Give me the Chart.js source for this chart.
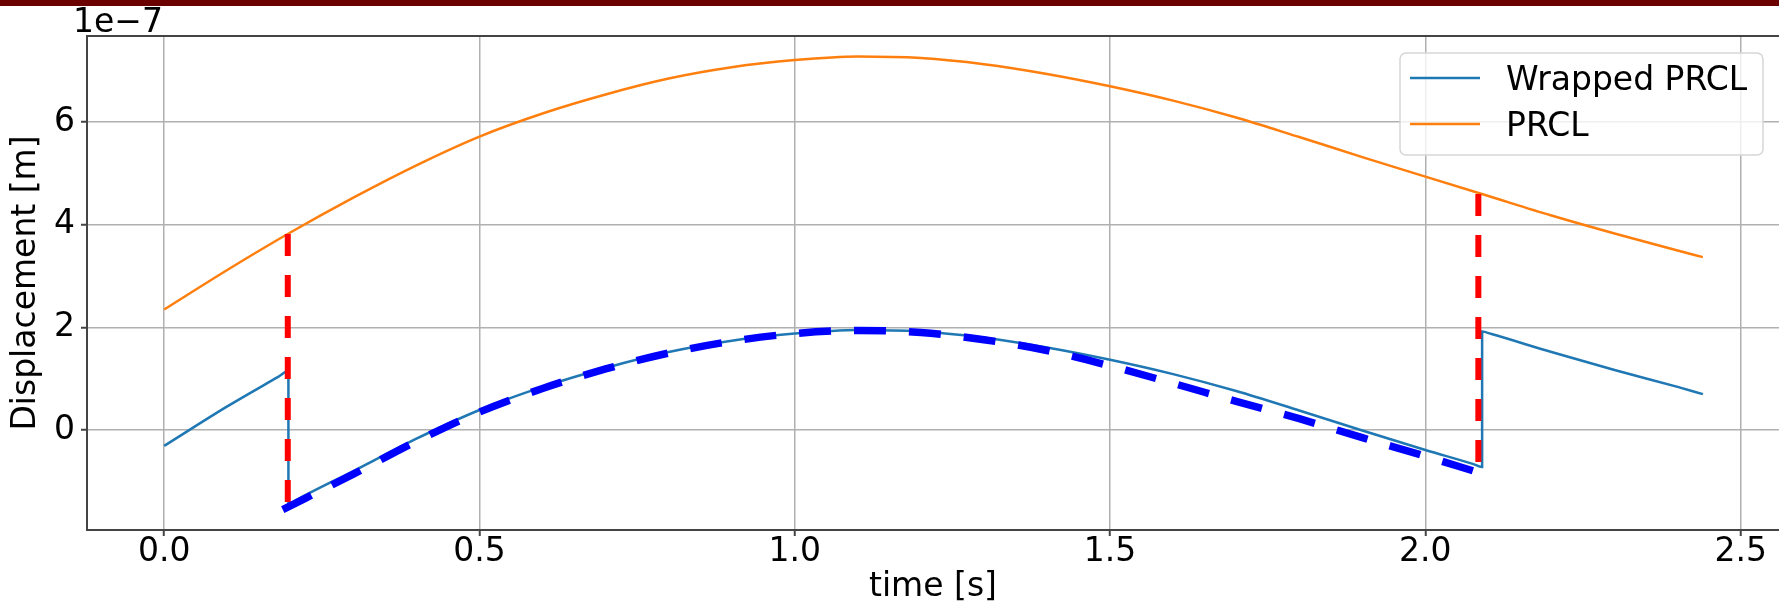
<!DOCTYPE html>
<html>
<head>
<meta charset="utf-8">
<script src="https://cdn.jsdelivr.net/npm/chart.js@4.4.0/dist/chart.umd.min.js"></script>
<style>
  html, body { margin: 0; padding: 0; background: #fff; overflow: hidden; }
  #wrap { position: relative; width: 1779px; height: 609px; }
  #topbar { position: absolute; left: 0; top: 0; width: 1779px; height: 6px; background: #6b0000; }
  canvas { position: absolute; left: 0; top: 0; }
</style>
</head>
<body>
<div id="wrap">
  <canvas id="chart" width="1779" height="609"></canvas>
  <div id="topbar"></div>
</div>
<script>
// time in s, displacement in units of 1e-7 m
const prclT = [0, 0.1, 0.2, 0.3, 0.4, 0.5, 0.6, 0.7, 0.8, 0.9, 1.0, 1.1, 1.2, 1.3, 1.4, 1.5, 1.6, 1.7, 1.8, 1.9, 2.0, 2.1, 2.2, 2.3, 2.4, 2.44];
const prclV = [2.35, 3.12, 3.85, 4.53, 5.16, 5.72, 6.17, 6.54, 6.85, 7.07, 7.21, 7.28, 7.25, 7.13, 6.94, 6.70, 6.42, 6.09, 5.71, 5.32, 4.94, 4.56, 4.18, 3.83, 3.50, 3.37];

const wrappedT = [0, 0.1, 0.18, 0.197, 0.197, 0.21, 0.3, 0.4, 0.5, 0.6, 0.7, 0.8, 0.9, 1.0, 1.1, 1.2, 1.3, 1.4, 1.5, 1.6, 1.7, 1.8, 1.9, 2.0, 2.075, 2.09, 2.09, 2.105, 2.2, 2.3, 2.4, 2.44];
const wrappedV = [-0.31, 0.46, 1.03, 1.15, -1.45, -1.36, -0.80, -0.17, 0.39, 0.84, 1.21, 1.52, 1.74, 1.88, 1.95, 1.92, 1.80, 1.61, 1.37, 1.09, 0.76, 0.38, -0.01, -0.39, -0.66, -0.72, 1.92, 1.87, 1.52, 1.17, 0.84, 0.70];

// thick blue dashed guide
const fitT = [0.188, 0.3, 0.4, 0.5, 0.6, 0.7, 0.8, 0.9, 1.0, 1.1, 1.2, 1.3, 1.4, 1.5, 1.6, 1.7, 1.8, 1.9, 2.0, 2.082];
const fitV = [-1.55, -0.86, -0.22, 0.35, 0.81, 1.19, 1.50, 1.73, 1.88, 1.94, 1.90, 1.76, 1.55, 1.25, 0.91, 0.56, 0.22, -0.15, -0.51, -0.82];

// red dashed jump markers
const jumpT = [0.196, 2.084];
const jumpTop = [3.82, 4.60];
const jumpBottom = [-1.41, -0.68];

const xTicks = [0, 0.5, 1.0, 1.5, 2.0, 2.5];
const yTicks = [0, 2, 4, 6];
const yOffsetLabel = '1e\u22127';
const legendLabels = ['Wrapped PRCL', 'PRCL'];

const FONT = 'DejaVu Sans';
Chart.defaults.font.family = FONT;
Chart.defaults.color = '#000';

const xy = (xs, ys) => xs.map((x, i) => ({x: x, y: ys[i]}));

const jumpData = [];
jumpT.forEach((t, i) => {
    if (i > 0) jumpData.push({x: t, y: null});
    jumpData.push({x: t, y: jumpTop[i]});
    jumpData.push({x: t, y: jumpBottom[i]});
});

const framePlugin = {
    id: 'frame',
    afterDraw(chart) {
        const c = chart.ctx;
        const a = chart.chartArea;
        c.save();
        // top spine
        c.strokeStyle = '#444';
        c.lineWidth = 2;
        c.beginPath();
        c.moveTo(a.left, a.top);
        c.lineTo(a.right, a.top);
        c.stroke();

        // offset text above y axis
        c.font = '33px "' + FONT + '"';
        c.fillStyle = '#000';
        c.textAlign = 'left';
        c.textBaseline = 'alphabetic';
        c.fillText(yOffsetLabel, 73, 32);

        // legend box
        const bx = 1400, by = 53, bw = 363, bh = 102, r = 6;
        c.beginPath();
        c.roundRect(bx, by, bw, bh, r);
        c.fillStyle = 'rgba(255,255,255,0.8)';
        c.fill();
        c.strokeStyle = '#d6d6d6';
        c.lineWidth = 1.5;
        c.stroke();

        legendLabels.forEach((lab, i) => {
            const ds = chart.data.datasets.find(d => d.label === lab);
            const cy = 78 + i * 46;
            c.strokeStyle = ds.borderColor;
            c.lineWidth = ds.borderWidth;
            c.beginPath();
            c.moveTo(1410, cy);
            c.lineTo(1480, cy);
            c.stroke();
            c.fillStyle = '#000';
            c.fillText(lab, 1506, cy + 12);
        });
        c.restore();
    }
};

const ctx = document.getElementById('chart').getContext('2d');
const chart = new Chart(ctx, {
    type: 'line',
    data: {
        datasets: [
            {
                label: 'fit',
                data: xy(fitT, fitV),
                borderColor: '#0000ff',
                borderWidth: 7.5,
                borderDash: [32, 23],
                cubicInterpolationMode: 'monotone',
                order: 0
            },
            {
                label: 'jumps',
                data: jumpData,
                borderColor: '#ff0000',
                borderWidth: 6,
                borderDash: [22, 19],
                spanGaps: false,
                order: 1
            },
            {
                label: 'PRCL',
                data: xy(prclT, prclV),
                borderColor: '#ff7f0e',
                borderWidth: 2.5,
                cubicInterpolationMode: 'monotone',
                order: 2
            },
            {
                label: 'Wrapped PRCL',
                data: xy(wrappedT, wrappedV),
                borderColor: '#1f77b4',
                borderWidth: 2.5,
                cubicInterpolationMode: 'monotone',
                order: 3
            }
        ]
    },
    options: {
        responsive: false,
        animation: false,
        layout: {
            padding: {top: 36, left: 0, right: 0, bottom: 0}
        },
        elements: {
            point: {radius: 0},
            line: {tension: 0, fill: false}
        },
        plugins: {
            legend: {display: false},
            tooltip: {enabled: false}
        },
        scales: {
            x: {
                type: 'linear',
                min: -0.1224,
                max: 2.5608,
                afterBuildTicks: (axis) => { axis.ticks = xTicks.map(v => ({value: v})); },
                afterFit: (axis) => { axis.height = 79; },
                ticks: {
                    callback: (v) => v.toFixed(1),
                    font: {size: 33, lineHeight: 1},
                    color: '#000',
                    padding: 0,
                    maxRotation: 0,
                    autoSkip: false
                },
                grid: {
                    color: '#b0b0b0',
                    lineWidth: 1.5,
                    tickColor: '#444',
                    tickWidth: 2,
                    tickLength: 6
                },
                border: {color: '#444', width: 2},
                title: {
                    display: true,
                    text: 'time [s]',
                    font: {size: 33},
                    color: '#000',
                    padding: {top: 0, bottom: 2}
                }
            },
            y: {
                type: 'linear',
                min: -1.949,
                max: 7.68,
                afterBuildTicks: (axis) => { axis.ticks = yTicks.map(v => ({value: v})); },
                afterFit: (axis) => { axis.width = 87; },
                ticks: {
                    callback: (v) => String(v),
                    font: {size: 33, lineHeight: 1},
                    color: '#000',
                    padding: 6,
                    autoSkip: false
                },
                grid: {
                    color: '#b0b0b0',
                    lineWidth: 1.5,
                    tickColor: '#444',
                    tickWidth: 2,
                    tickLength: 6
                },
                border: {color: '#444', width: 2},
                title: {
                    display: true,
                    text: 'Displacement [m]',
                    font: {size: 33},
                    color: '#000',
                    padding: {top: 7, bottom: 0}
                }
            }
        }
    },
    plugins: [framePlugin]
});
</script>
</body>
</html>
